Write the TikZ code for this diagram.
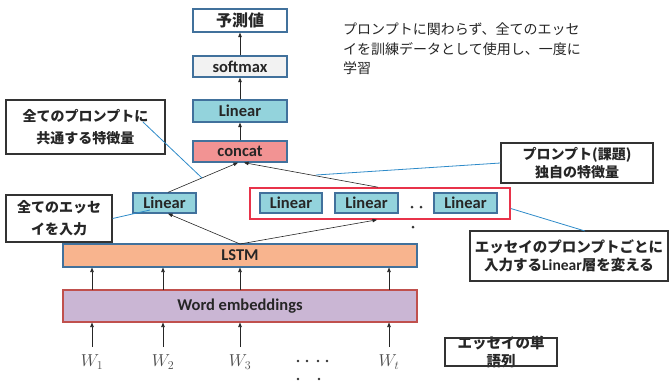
\documentclass[tikz,border=0pt]{standalone}
\usepackage{fontspec}
\setmainfont{Carlito}
\newfontfamily\jp{Noto Sans CJK JP}
\usetikzlibrary{arrows.meta}
\definecolor{bordb}{HTML}{41719C}
\definecolor{cyanf}{HTML}{93D3DC}
\definecolor{concatf}{HTML}{F29393}
\definecolor{lstmf}{HTML}{F8B48E}
\definecolor{embf}{HTML}{CAB6D4}
\definecolor{embd}{HTML}{C0504D}
\definecolor{redb}{HTML}{E8334A}
\definecolor{calblue}{HTML}{2E8BC9}
\definecolor{softf}{HTML}{F2F2F2}
\definecolor{txt}{HTML}{262626}
\begin{document}
\begin{tikzpicture}[x=1pt,y=-1pt,
  blk/.style={draw=bordb, line width=1.3pt, text=txt, inner sep=0pt,
    font=\bfseries\fontsize{16.5}{18}\selectfont},
  lbl/.style={draw=black!80, line width=1.3pt, fill=white, text=txt, inner sep=0pt,
    align=center, font=\jp\bfseries\fontsize{14}{22}\selectfont},
  callout/.style={draw=calblue, line width=0.8pt},
  arr/.style={-{Triangle[length=4.5pt,width=3.5pt]}, line width=0.6pt, draw=black!85},
  wlab/.style={text=black!70, font=\fontsize{17}{18}\selectfont, inner sep=0pt},
  dotm/.style={fill=black!80}
]
\useasboundingbox (0,0) rectangle (669,381);

% main column
\node[blk, fill=white, minimum width=94pt, minimum height=23pt, font=\jp\bfseries\fontsize{16}{18}\selectfont] (pred) at (240,20.5) {予測値};
\node[blk, fill=softf, minimum width=94pt, minimum height=21pt] (soft) at (240,66.5) {softmax};
\node[blk, fill=cyanf, minimum width=94pt, minimum height=22pt] (lintop) at (240,111) {Linear};
\node[blk, fill=concatf, minimum width=94pt, minimum height=21pt] (concat) at (240,151.5) {concat};

\node[blk, fill=cyanf, minimum width=63pt, minimum height=20pt] (linL) at (164.5,203) {Linear};
\node[draw=redb, line width=1.6pt, minimum width=260pt, minimum height=31pt, inner sep=0pt] (redbox) at (380,203.5) {};
\node[blk, fill=cyanf, minimum width=62pt, minimum height=20pt] (lin1) at (291,203) {Linear};
\node[blk, fill=cyanf, minimum width=63pt, minimum height=20pt] (lin2) at (366.5,203) {Linear};
\node[blk, fill=cyanf, minimum width=63pt, minimum height=20pt] (lin3) at (465.5,203) {Linear};
\fill[dotm] (412,207) circle (1.5pt) (421,207) circle (1.5pt) (413,227) circle (1.5pt);

\node[blk, fill=lstmf, minimum width=354pt, minimum height=23pt] (lstm) at (240,255.5) {LSTM};
\node[blk, draw=embd, fill=embf, minimum width=354pt, minimum height=32pt] (emb) at (240,306) {Word embeddings};

% inputs
\node[wlab] (w1) at (92,362) {$W_1$};
\node[wlab] (w2) at (163,362) {$W_2$};
\node[wlab] (w3) at (240,362) {$W_3$};
\node[wlab] (wt) at (389,362) {$W_t$};
\fill[dotm] (298,361) circle (1.4pt) (307,361) circle (1.4pt) (318,361) circle (1.4pt) (327,361) circle (1.4pt)
  (298,379) circle (1.4pt) (319,379) circle (1.4pt);

\foreach \x in {92,163,240,389}{
  \draw[arr] (\x,347) -- (\x,322.5);
  \draw[arr] (\x,289.5) -- (\x,267.5);
}

% arrows
\draw[arr] (soft.north) -- (pred.south);
\draw[arr] (lintop.north) -- (soft.south);
\draw[arr] (concat.north) -- (lintop.south);
\draw[arr] ([xshift=3.5pt]linL.north) -- ([xshift=-2pt]concat.south);
\draw[arr] ([xshift=-2pt]redbox.north) -- ([xshift=4pt]concat.south);
\coordinate (lstmtop) at (240,244);
\draw[arr] (lstmtop) -- ([xshift=3.5pt]linL.south);
\draw[arr] (lstmtop) -- ([xshift=-3pt]redbox.south);

% callout labels
\node[lbl, minimum width=159pt, minimum height=54pt] (lab1) at (85.5,127) {全てのプロンプトに\\共通する特徴量};
\node[lbl, minimum width=106pt, minimum height=47pt] (lab2) at (59,218.5) {全てのエッセ\\イを入力};
\node[lbl, minimum width=152pt, minimum height=40pt, font=\jp\bfseries\fontsize{14}{17.5}\selectfont] (lab3) at (577,163) {プロンプト(課題)\\独自の特徴量};
\node[lbl, minimum width=198pt, minimum height=50pt, font=\jp\bfseries\fontsize{14.5}{18.5}\selectfont] (lab4) at (569,256) {エッセイのプロンプトごとに\\入力する{\rmfamily\bfseries\fontsize{15.5}{18}\selectfont Linear}層を変える};
\node[text=txt, inner sep=0pt, align=center, font=\jp\bfseries\fontsize{14.5}{18}\selectfont] (lab5) at (501,352) {エッセイの単\\語列};
\draw[draw=black!80, line width=1.3pt] ([xshift=-56pt,yshift=14pt]lab5.center) rectangle ([xshift=56pt,yshift=-14pt]lab5.center);

\coordinate (c1a) at (143,122);
\coordinate (c1b) at (202,178);
\draw[callout] (c1a) -- (c1b);
\coordinate (c2b) at (150,210);
\draw[callout] (lab2.east) -- (c2b);
\coordinate (c3b) at (316,175);
\draw[callout] (lab3.west) -- (c3b);
\coordinate (c4a) at (585,231);
\draw[callout] (c4a) -- ([yshift=-5pt]redbox.east);

% note
\node[anchor=north west, inner sep=0pt, align=left, text=txt,
  font=\jp\fontsize{14}{19.5}\selectfont] (note) at (343,23)
  {プロンプトに関わらず、全てのエッセ\\イを訓練データとして使用し、一度に\\学習};
\end{tikzpicture}
\end{document}
